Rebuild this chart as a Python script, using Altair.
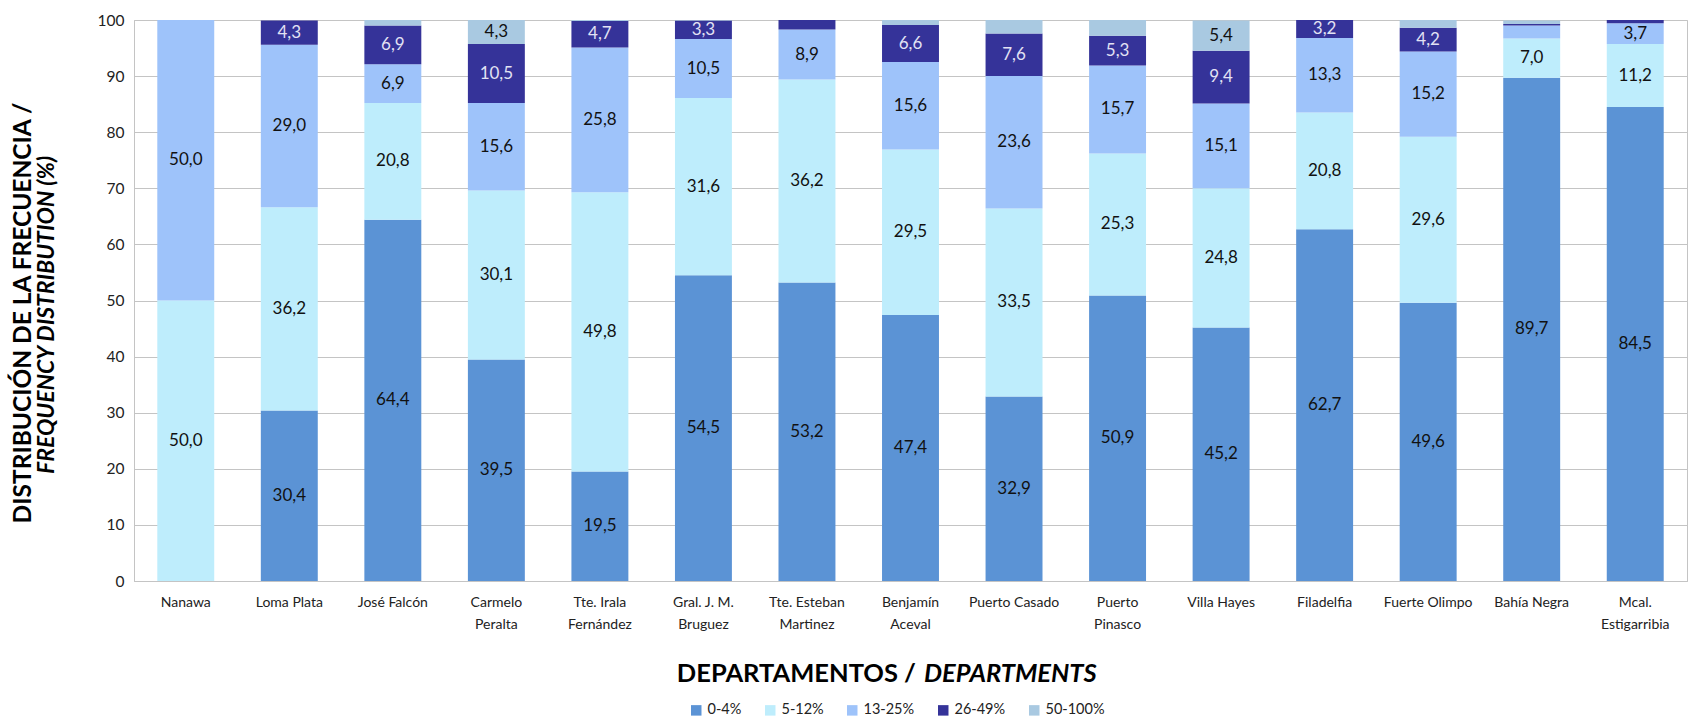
import altair as alt
import pandas as pd

departments = ["Nanawa", "Loma Plata", "José Falcón", "Carmelo|Peralta", "Tte. Irala|Fernández",
               "Gral. J. M.|Bruguez", "Tte. Esteban|Martinez", "Benjamín|Aceval", "Puerto Casado",
               "Puerto|Pinasco", "Villa Hayes", "Filadelfia", "Fuerte Olimpo", "Bahía Negra",
               "Mcal.|Estigarribia"]
classes = ["0-4%", "5-12%", "13-25%", "26-49%", "50-100%"]
colors = ["#5B93D5", "#BEEDFC", "#9EC3FA", "#353399", "#A9C9E1"]

v_0_4 = [0, 30.4, 64.4, 39.5, 19.5, 54.5, 53.2, 47.4, 32.9, 50.9, 45.2, 62.7, 49.6, 89.7, 84.5]
v_5_12 = [50.0, 36.2, 20.8, 30.1, 49.8, 31.6, 36.2, 29.5, 33.5, 25.3, 24.8, 20.8, 29.6, 7.0, 11.2]
v_13_25 = [50.0, 29.0, 6.9, 15.6, 25.8, 10.5, 8.9, 15.6, 23.6, 15.7, 15.1, 13.3, 15.2, 2.3, 3.7]
v_26_49 = [0, 4.3, 6.9, 10.5, 4.7, 3.3, 1.7, 6.6, 7.6, 5.3, 9.4, 3.2, 4.2, 0.3, 0.6]
v_50_100 = [0, 0, 1.0, 4.3, 0.2, 0.1, 0, 0.9, 2.4, 2.8, 5.4, 0, 1.4, 0.6, 0]

series = [v_0_4, v_5_12, v_13_25, v_26_49, v_50_100]
rows = []
for i, d in enumerate(departments):
    for j, c in enumerate(classes):
        rows.append({"dept": d, "cls": c, "ord": j, "value": series[j][i]})
df = pd.DataFrame(rows)

FONT = "Lato"
GRID = "#C4C4C4"

base = alt.Chart(df).transform_stack(
    stack="value", groupby=["dept"],
    sort=[alt.SortField("ord", order="ascending")], as_=["y0", "y1"]
).transform_calculate(
    mid="(datum.y0 + datum.y1) / 2",
    lab="replace(format(datum.value, '.1f'), '.', ',')"
)

x_enc = alt.X("dept:N", sort=departments, title=None,
              scale=alt.Scale(paddingInner=0.45, paddingOuter=0.225),
              axis=alt.Axis(labelExpr="split(datum.label, '|')", labelAngle=0, ticks=False,
                            domainColor=GRID, labelFont=FONT, labelFontSize=14,
                            labelColor="#222", labelPadding=14, labelLineHeight=22,
                            labelBaseline="top"))

bars = base.mark_bar().encode(
    x=x_enc,
    y=alt.Y("y0:Q", scale=alt.Scale(domain=[0, 100]), title=None,
            axis=alt.Axis(values=list(range(0, 101, 10)), ticks=False, domainColor=GRID,
                          gridColor=GRID, labelFont=FONT, labelFontSize=15.5,
                          labelColor="#222", labelPadding=10)),
    y2="y1:Q",
    color=alt.Color("cls:N", scale=alt.Scale(domain=classes, range=colors),
                    legend=alt.Legend(title=None, orient="none", legendX=555, legendY=683,
                                      direction="horizontal", symbolType="square",
                                      symbolSize=110, symbolStrokeWidth=0,
                                      labelFont=FONT, labelFontSize=14.5, labelColor="#222",
                                      columnPadding=21)),
    order=alt.Order("ord:Q")
)

labels = base.transform_filter("datum.value >= 3").mark_text(
    font=FONT, fontSize=17, baseline="middle"
).encode(
    x=alt.X("dept:N", sort=departments),
    y="mid:Q",
    text="lab:N",
    color=alt.condition("datum.cls == '26-49%'", alt.value("#E2E2F4"), alt.value("#111"))
)

ytitle1 = alt.Chart(pd.DataFrame({"t": ["DISTRIBUCIÓN DE LA FRECUENCIA /"]})).mark_text(
    font=FONT, fontSize=24.5, fontWeight="bold", angle=270, baseline="middle", align="center",
    color="#000"
).encode(x=alt.value(-110), y=alt.value(293), text="t:N")

ytitle2 = alt.Chart(pd.DataFrame({"t": ["FREQUENCY DISTRIBUTION (%)"]})).mark_text(
    font=FONT, fontSize=23, fontWeight="bold", fontStyle="italic", angle=270,
    baseline="middle", align="center", color="#000"
).encode(x=alt.value(-87), y=alt.value(295), text="t:N")

xtitle1 = alt.Chart(pd.DataFrame({"t": ["DEPARTAMENTOS /"]})).mark_text(
    font=FONT, fontSize=25.5, fontWeight="bold", baseline="middle", align="right", color="#000"
).encode(x=alt.value(782), y=alt.value(654), text="t:N")

xtitle2 = alt.Chart(pd.DataFrame({"t": ["DEPARTMENTS"]})).mark_text(
    font=FONT, fontSize=25.5, fontWeight="bold", fontStyle="italic", baseline="middle",
    align="left", color="#000"
).encode(x=alt.value(790), y=alt.value(654), text="t:N")

chart = alt.layer(bars, labels, ytitle1, ytitle2, xtitle1, xtitle2).properties(
    width=1553, height=561,
    autosize=alt.AutoSizeParams(type="none"),
    padding={"left": 134, "top": 20, "right": 9, "bottom": 138},
    background="white"
).configure_view(stroke=GRID)

chart.save("out.html", embed_options={"renderer": "svg", "actions": False})
